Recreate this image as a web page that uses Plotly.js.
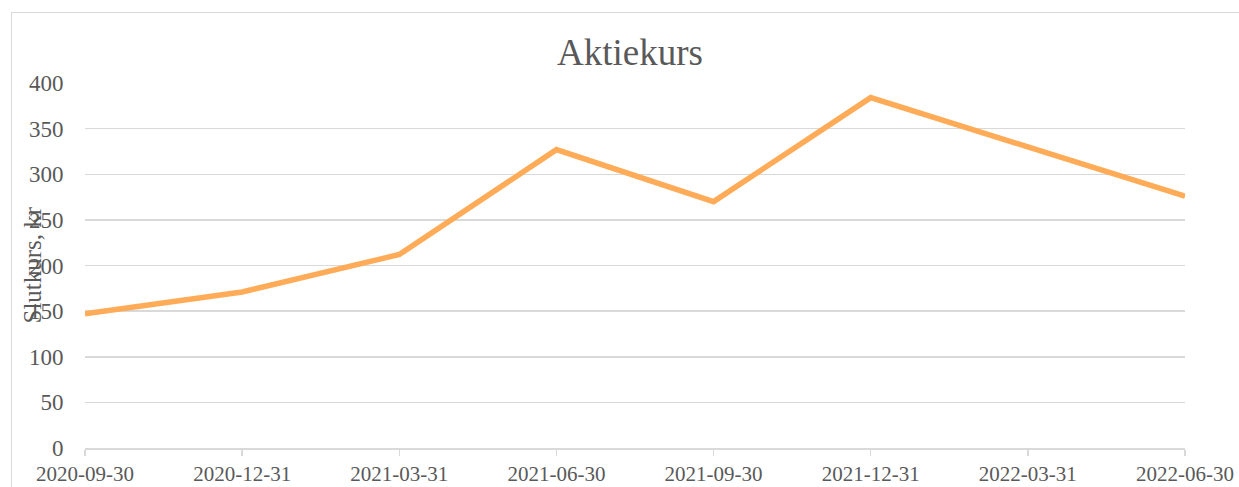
<!DOCTYPE html>
<html>
<head>
<meta charset="utf-8">
<script src="https://cdn.plot.ly/plotly-3.0.1.min.js"></script>
<style>
  html, body { margin: 0; padding: 0; background: #fff; }
  #wrap { position: relative; width: 1239px; height: 487px; }
  #frame { position: absolute; left: 11px; top: 12px; width: 1228px; height: 475px;
           border-left: 1px solid #d9d9d9; border-top: 1px solid #d9d9d9; pointer-events: none; }
  #chart { position: absolute; left: 0; top: 0; width: 1239px; height: 487px; }
</style>
</head>
<body>
<div id="wrap">
  <div id="chart"></div>
  <div id="frame"></div>
</div>
<script>
const chartTitle = "Aktiekurs";
const yAxisTitle = "Slutkurs, kr";
const dates = ["2020-09-30", "2020-12-31", "2021-03-31", "2021-06-30", "2021-09-30", "2021-12-31", "2022-03-31", "2022-06-30"];
const closePrice = [147, 171, 212, 327, 270, 384, 330, 276];
const yTicks = [0, 50, 100, 150, 200, 250, 300, 350, 400];

const textColor = "#595959";
const fontFamily = "Liberation Serif, Times New Roman, serif";

const trace = {
  x: dates,
  y: closePrice,
  type: "scatter",
  mode: "lines",
  line: { color: "#FFAB57", width: 5.5 },
  hoverinfo: "x+y"
};

const layout = {
  width: 1239,
  height: 487,
  margin: { l: 85, r: 54, t: 83, b: 39 },
  paper_bgcolor: "rgba(0,0,0,0)",
  plot_bgcolor: "rgba(0,0,0,0)",
  showlegend: false,
  title: {
    text: chartTitle,
    font: { family: fontFamily, size: 37, color: textColor },
    xref: "container", x: 630 / 1239, xanchor: "center",
    yref: "container", y: 1 - 52 / 487, yanchor: "middle"
  },
  xaxis: {
    type: "category",
    range: [0, dates.length - 1],
    showgrid: false,
    showline: true,
    linecolor: "#d9d9d9",
    linewidth: 1.5,
    ticks: "outside",
    ticklen: 6,
    tickcolor: "#d9d9d9",
    tickwidth: 1.5,
    tickfont: { family: fontFamily, size: 21, color: textColor },
    zeroline: false,
    fixedrange: true
  },
  yaxis: {
    range: [0, 400],
    tickvals: yTicks,
    ticktext: yTicks.map(String),
    showgrid: true,
    gridcolor: "#d9d9d9",
    gridwidth: 1.5,
    zeroline: false,
    showline: false,
    ticks: "outside",
    ticklen: 16,
    tickcolor: "rgba(0,0,0,0)",
    tickfont: { family: fontFamily, size: 23, color: textColor },
    fixedrange: true
  },
  annotations: [{
    text: yAxisTitle,
    xref: "paper", yref: "paper",
    x: (32 - 85) / 1100, y: 0.5,
    xanchor: "center", yanchor: "middle",
    textangle: -90,
    showarrow: false,
    font: { family: fontFamily, size: 25, color: textColor }
  }]
};

Plotly.newPlot("chart", [trace], layout, { displayModeBar: false, staticPlot: true });
</script>
</body>
</html>
